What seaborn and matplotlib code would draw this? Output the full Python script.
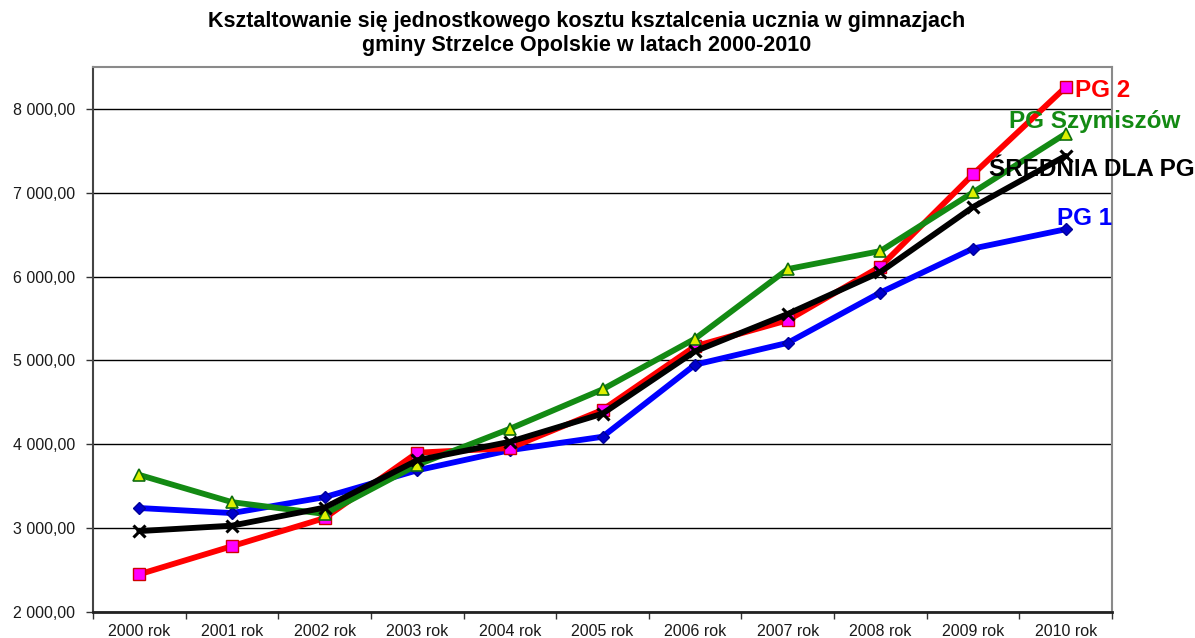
import numpy as np
import pandas as pd
import matplotlib
matplotlib.use("Agg")
import matplotlib.pyplot as plt
from matplotlib import font_manager
from matplotlib.ticker import FixedLocator, FuncFormatter
import seaborn as sns

# ---- data ----
years = ["2000 rok", "2001 rok", "2002 rok", "2003 rok", "2004 rok", "2005 rok",
         "2006 rok", "2007 rok", "2008 rok", "2009 rok", "2010 rok"]
pg1 = [3240, 3180, 3370, 3690, 3930, 4090, 4950, 5210, 5810, 6335, 6565]
pg2 = [2450, 2785, 3120, 3900, 3955, 4410, 5170, 5480, 6120, 7220, 8260]
pg_szym = [3635, 3310, 3170, 3755, 4185, 4655, 5260, 6090, 6305, 7005, 7705]
srednia = [2965, 3030, 3245, 3810, 4030, 4365, 5110, 5555, 6055, 6830, 7440]
series_names = ["PG 1", "PG 2", "PG Szymiszów", "ŚREDNIA DLA PG"]
title_lines = ["Ksztaltowanie się jednostkowego kosztu ksztalcenia ucznia w gimnazjach",
               "gminy Strzelce Opolskie w latach 2000-2010"]

sns.set_theme(style="white")
names = {f.name for f in font_manager.fontManager.ttflist}
narrow = "Liberation Sans Narrow" if "Liberation Sans Narrow" in names else None
base = ["Liberation Sans", "DejaVu Sans"]
plt.rcParams["font.family"] = base
plt.rcParams["text.color"] = "black"
narrow_family = ([narrow] + base) if narrow else base

fig = plt.figure(figsize=(11.95, 6.38), dpi=100)
fig.patch.set_facecolor("white")
ax = fig.add_axes([93 / 1195, 1 - 612 / 638, (1112 - 93) / 1195, (612 - 67) / 638])

styles = [
    dict(data=pg1, color="#0000FF", marker="D", ms=6.5, mfc="#0000CC", mec="#000099", mew=1),
    dict(data=pg2, color="#FF0000", marker="s", ms=8.5, mfc="#FF00FF", mec="#D00000", mew=1),
    dict(data=pg_szym, color="#138A13", marker="^", ms=8.5, mfc="#DDF000", mec="#0E6E0E", mew=1.2),
    dict(data=srednia, color="#000000", marker="x", ms=8, mfc="#000000", mec="#000000", mew=2.2),
]
for i, st in enumerate(styles):
    sns.lineplot(x=years, y=st["data"], ax=ax, color=st["color"], lw=4.2,
                 marker=st["marker"], markersize=st["ms"], markerfacecolor=st["mfc"],
                 markeredgecolor=st["mec"], markeredgewidth=st["mew"], sort=False,
                 zorder=3 + i, legend=False)

ax.set_xlim(-0.5, 10.5)
ax.set_ylim(2000, 8500)
ax.set_xlabel("")
ax.set_ylabel("")

# y axis
ax.yaxis.set_major_locator(FixedLocator([2000, 3000, 4000, 5000, 6000, 7000, 8000]))
ax.yaxis.set_major_formatter(FuncFormatter(
    lambda v, p: f"{v:,.2f}".replace(",", " ").replace(".", ",")))
ax.yaxis.grid(True, color="black", lw=1.0)
ax.set_axisbelow(True)
ax.tick_params(axis="y", which="major", length=5, width=1, color="#333333",
               labelsize=11.5, pad=8, left=True, direction="out")
for lab in ax.get_yticklabels():
    lab.set_color("#1a1a1a")

# x axis: labels at centres, ticks at boundaries
ax.set_xticks(range(len(years)))
ax.set_xticklabels(years, family=narrow_family, fontsize=12.5 if narrow else 11.5, color="#1a1a1a")
ax.tick_params(axis="x", which="major", length=0, pad=9)
ax.xaxis.set_minor_locator(FixedLocator(np.arange(-0.5, 11, 1.0)))
ax.tick_params(axis="x", which="minor", length=5, width=1, color="#333333",
               bottom=True, direction="out")

for side in ["top", "right"]:
    ax.spines[side].set_color("#8a8a8a")
    ax.spines[side].set_linewidth(1.5)
ax.spines["left"].set_color("#444444")
ax.spines["left"].set_linewidth(1.5)
ax.spines["bottom"].set_color("#222222")
ax.spines["bottom"].set_linewidth(2)

# series labels at the right end
label_cfg = [
    (0, "#0000FF", (-9, 11)),
    (1, "#FF0000", (9, -3)),
    (2, "#138A13", (-57, 12)),
    (3, "#000000", (-77, -14)),
]
for idx, col, off in label_cfg:
    ax.annotate(series_names[idx], xy=(10, styles[idx]["data"][-1]), xytext=off,
                textcoords="offset pixels", ha="left", va="center", color=col,
                fontsize=17.5, fontweight="bold", zorder=10, annotation_clip=False)

# title
tsize = 17 if narrow else 15.5
fig.text(587 / 1195, 1 - 21 / 638, title_lines[0], ha="center", va="center",
         fontsize=tsize, fontweight="bold", family=narrow_family, color="black")
fig.text(587 / 1195, 1 - 46 / 638, title_lines[1], ha="center", va="center",
         fontsize=tsize, fontweight="bold", family=narrow_family, color="black")

fig.savefig("out.png", dpi=100, facecolor="white")
